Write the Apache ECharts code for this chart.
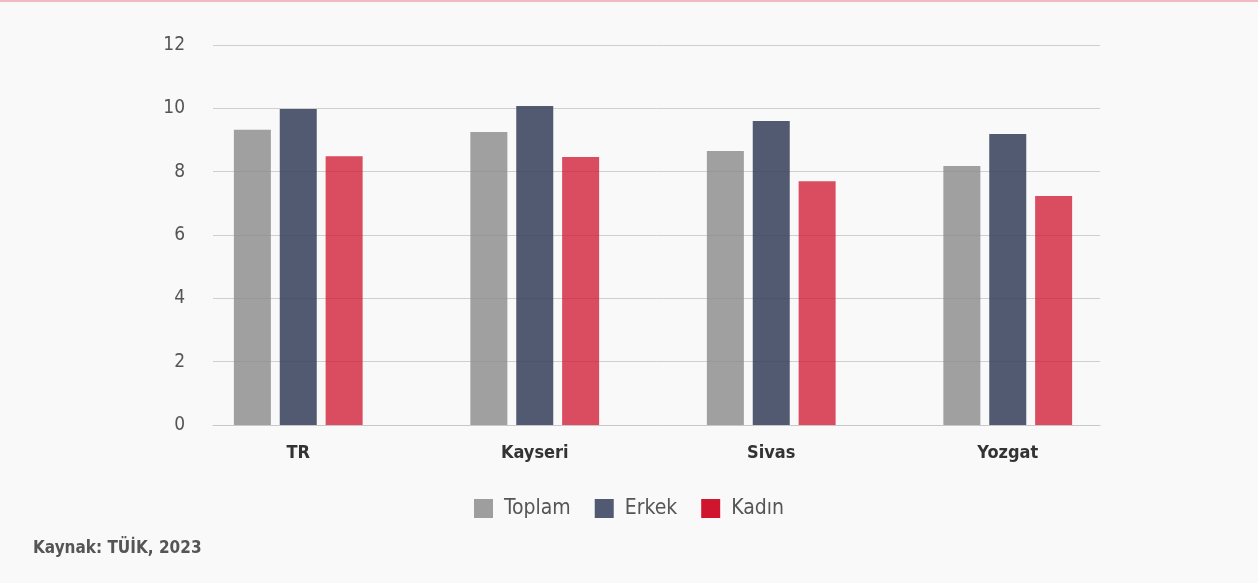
<!DOCTYPE html>
<html>
<head>
<meta charset="utf-8">
<script src="https://cdn.jsdelivr.net/npm/echarts@6/dist/echarts.min.js"></script>
<style>
  html, body { margin: 0; padding: 0; background: #f9f9f9; }
  #chart { width: 1258px; height: 583px; }
</style>
</head>
<body>
<div id="chart"></div>
<script>
const categories = ['TR', 'Kayseri', 'Sivas', 'Yozgat'];
const toplam = [9.32, 9.25, 8.65, 8.18];
const erkek = [9.98, 10.07, 9.6, 9.19];
const kadin = [8.49, 8.46, 7.7, 7.23];
const yTicks = [0, 2, 4, 6, 8, 10, 12];

const FONT = '"Liberation Sans Narrow", "DejaVu Sans Condensed", "Roboto", sans-serif';

const chart = echarts.init(document.getElementById('chart'));

const option = {
  backgroundColor: '#f9f9f9',
  animation: false,
  graphic: [
    { type: 'rect', left: 0, top: 0, shape: { width: 1258, height: 2 }, style: { fill: '#f3b9c2' } },
    {
      type: 'text', left: 33, top: 540,
      style: { text: 'Kaynak: TÜİK, 2023', fill: '#555', font: '600 17px ' + FONT }
    }
  ],
  legend: {
    bottom: 59,
    left: 'center',
    itemWidth: 19,
    itemHeight: 19,
    itemGap: 24,
    icon: 'rect',
    textStyle: { fontFamily: FONT, fontSize: 21, color: '#555', padding: [0, 0, 0, 6] },
    data: [
      { name: 'Toplam', itemStyle: { color: '#9e9e9e', opacity: 1 } },
      { name: 'Erkek', itemStyle: { color: '#525a73', opacity: 1 } },
      { name: 'Kadın', itemStyle: { color: '#d0152f', opacity: 1 } }
    ]
  },
  grid: [
    { left: 213, right: 158, top: 45, bottom: 158 },
    { left: 180, right: 132, top: 45, bottom: 158 }
  ],
  xAxis: [
    {
      gridIndex: 0, type: 'category', data: [''],
      axisLine: { lineStyle: { color: '#c8c8c8' } },
      axisTick: { show: false }, axisLabel: { show: false }
    },
    {
      gridIndex: 1, type: 'category', data: categories,
      axisLine: { show: false }, axisTick: { show: false },
      axisLabel: { fontFamily: FONT, fontSize: 18, fontWeight: 600, color: '#333', margin: 19 }
    }
  ],
  yAxis: [
    {
      gridIndex: 0, type: 'value', min: 0, max: 12, interval: 2,
      axisLine: { show: false }, axisTick: { show: false },
      axisLabel: {
        fontFamily: FONT, fontSize: 19, color: '#555', margin: 28,
        formatter: v => yTicks.includes(v) ? String(v) : ''
      },
      splitLine: { lineStyle: { color: '#cfcfcf', width: 1 } }
    },
    {
      gridIndex: 1, type: 'value', min: 0, max: 12, interval: 2,
      axisLine: { show: false }, axisTick: { show: false },
      axisLabel: { show: false }, splitLine: { show: false }
    }
  ],
  series: [
    {
      name: 'Toplam', type: 'bar', xAxisIndex: 1, yAxisIndex: 1,
      data: toplam, barWidth: 37, barGap: '24%',
      itemStyle: { color: '#8a8a8a', opacity: 0.8 }
    },
    {
      name: 'Erkek', type: 'bar', xAxisIndex: 1, yAxisIndex: 1,
      data: erkek, barWidth: 37, barGap: '24%',
      itemStyle: { color: '#3a435f', opacity: 0.88 }
    },
    {
      name: 'Kadın', type: 'bar', xAxisIndex: 1, yAxisIndex: 1,
      data: kadin, barWidth: 37, barGap: '24%',
      itemStyle: { color: '#d0152f', opacity: 0.76 }
    }
  ]
};

chart.setOption(option);
</script>
</body>
</html>
